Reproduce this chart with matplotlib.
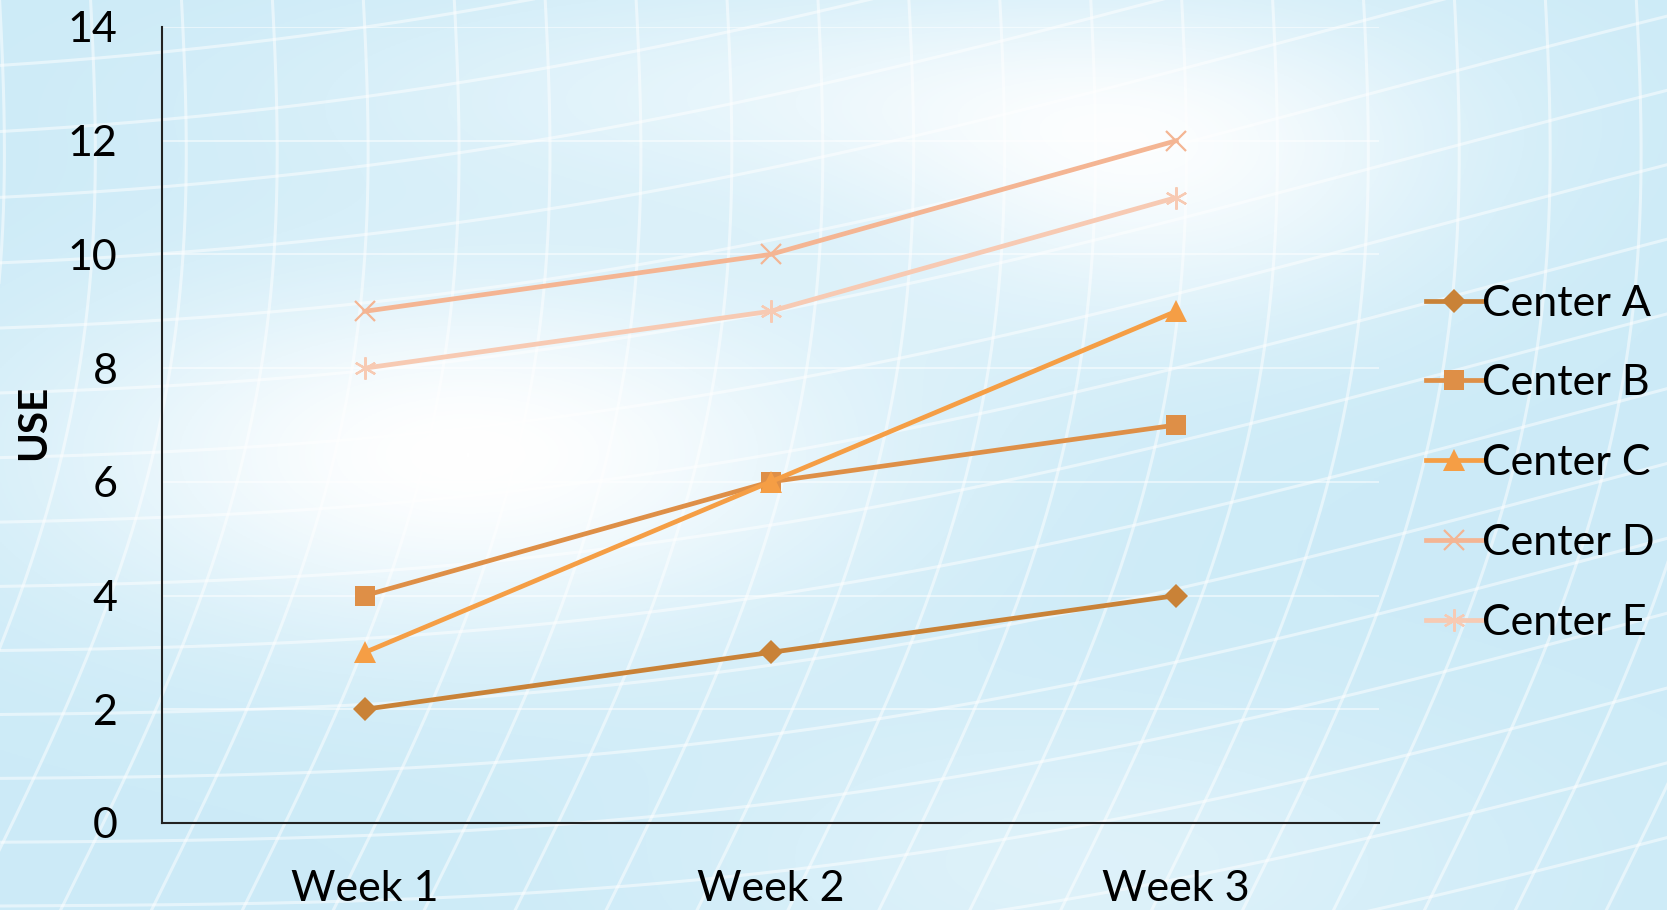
import numpy as np
import matplotlib
matplotlib.use("Agg")
import matplotlib.pyplot as plt

WEEKS = ["Week 1", "Week 2", "Week 3"]
CENTER_A = [2, 3, 4]
CENTER_B = [4, 6, 7]
CENTER_C = [3, 6, 9]
CENTER_D = [9, 10, 12]
CENTER_E = [8, 9, 11]

SERIES = [
    ("Center A", CENTER_A, "#C98237", "D", 12),
    ("Center B", CENTER_B, "#DE8F47", "s", 14),
    ("Center C", CENTER_C, "#F59E45", "^", 16),
    ("Center D", CENTER_D, "#F4B593", "x", 14),
    ("Center E", CENTER_E, "#F7CAB3", (6, 2, 0), 16),
]

plt.rcParams["font.family"] = ["Lato", "DejaVu Sans"]

fig = plt.figure(figsize=(16.67, 9.10), dpi=100)

# soft blue backdrop with a light glow and a warped white grid
bg = fig.add_axes([0, 0, 1, 1], zorder=-10)
h, w = 455, 834
yy, xx = np.mgrid[0:1:h * 1j, 0:1:w * 1j]
glow = np.exp(-((xx - 0.28) ** 2 / 0.06 + (yy - 0.50) ** 2 / 0.04))
glow += 0.7 * np.exp(-((xx - 0.70) ** 2 / 0.03 + (yy - 0.20) ** 2 / 0.03))
glow += 0.5 * np.exp(-((xx - 0.50) ** 2 / 0.10 + (yy - 0.10) ** 2 / 0.015))
glow += 0.35 * np.exp(-((xx - 0.65) ** 2 / 0.06 + (yy - 0.95) ** 2 / 0.03))
glow = np.clip(glow, 0, 1)
base = np.array([0.80, 0.92, 0.97])
img = base[None, None, :] * (1 - glow[..., None]) + np.ones(3) * glow[..., None]
bg.imshow(img, extent=[0, 1, 0, 1], aspect="auto", origin="upper")
t = np.linspace(0, 1, 200)
for k in np.linspace(-0.4, 1.4, 34):
    bg.plot(k + 0.12 * t + 0.05 * np.sin(3 * t), t, color="white", lw=2.2, alpha=0.5)
for k in np.linspace(-0.3, 1.3, 22):
    bg.plot(t, k + 0.25 * t - 0.08 * np.sin(3 * t + k), color="white", lw=2.2, alpha=0.5)
bg.set_xlim(0, 1)
bg.set_ylim(0, 1)
bg.axis("off")

ax = fig.add_axes([162 / 1667, 1 - 823 / 910, (1379 - 162) / 1667, (823 - 27) / 910])
ax.patch.set_alpha(0)

x = np.arange(len(WEEKS))
for name, vals, color, marker, ms in SERIES:
    ax.plot(x, vals, color=color, lw=3.4, marker=marker, markersize=ms,
            markeredgewidth=1.6 if marker in ("x", (6, 2, 0)) else 0,
            markeredgecolor=color, label=name, zorder=3)

ax.set_xlim(-0.5, 2.5)
ax.set_ylim(0, 14)
ax.set_yticks(range(0, 15, 2))
ax.set_xticks(x)
ax.set_xticklabels(WEEKS)
ax.yaxis.grid(True, color="white", lw=1.2, alpha=0.6)
ax.set_axisbelow(True)
ax.tick_params(axis="both", length=0, labelsize=31, colors="black")
ax.tick_params(axis="y", pad=32)
ax.tick_params(axis="x", pad=34)
for side in ["top", "right"]:
    ax.spines[side].set_visible(False)
for side in ["left", "bottom"]:
    ax.spines[side].set_color("#222222")
    ax.spines[side].set_linewidth(1.5)

fig.text(34 / 1667, 1 - 422 / 910, "USE", rotation=90, fontsize=29,
         fontweight="bold", ha="center", va="center")

ax.legend(loc="center left", bbox_to_anchor=(1.039, 0.452), frameon=False,
          fontsize=31, handlelength=1.3, handletextpad=0.0, labelspacing=0.97,
          borderpad=0, borderaxespad=0)

fig.savefig("out.png", dpi=100)
